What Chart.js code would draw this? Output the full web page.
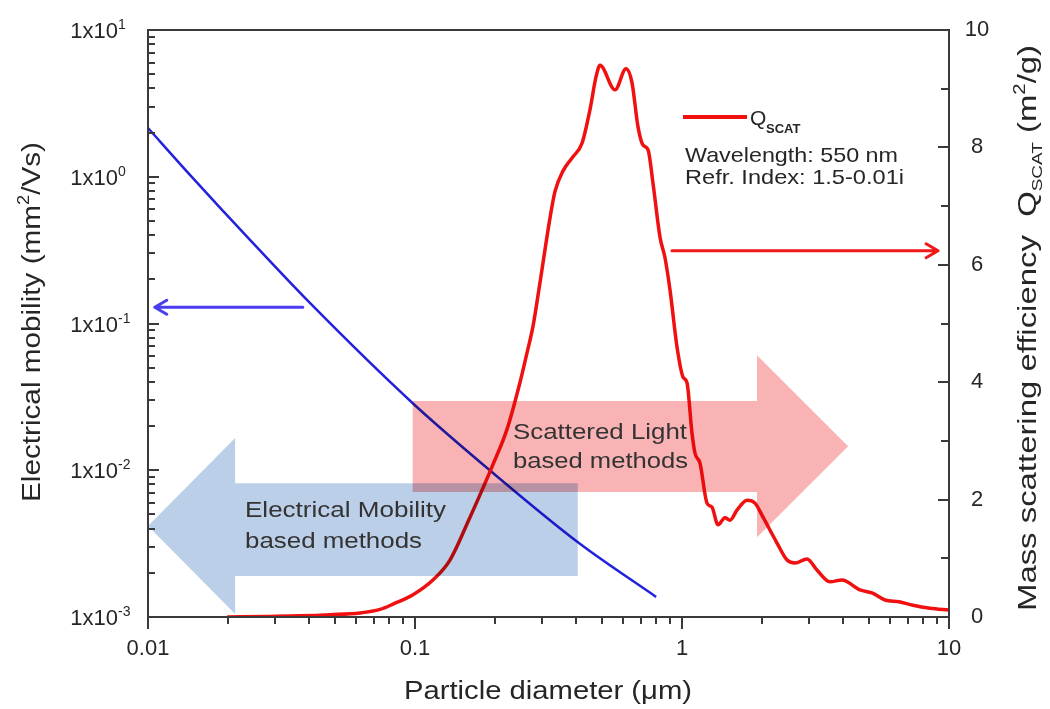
<!DOCTYPE html>
<html lang="en">
<head>
  <meta charset="UTF-8" />
  <title>Electrical mobility and mass scattering efficiency vs particle diameter</title>
  <script src="https://cdn.jsdelivr.net/npm/chart.js"></script>
  <style>
    html, body {
      margin: 0;
      padding: 0;
      background: #fff;
    }
    .chart-box {
      position: relative;
      width: 1050px;
      height: 709px;
    }
  </style>
</head>
<body>
  <div class="chart-box"><canvas id="chart"></canvas></div>

  <script>
    // Electrical mobility (mm2/Vs) vs particle diameter (um)
    const mobilityDiameter = [0.01, 0.0145, 0.0241, 0.0404, 0.0983, 0.196, 0.411, 0.80];
    const mobilityValue = [2.15, 1.01, 0.371, 0.138, 0.0285, 0.00957, 0.00319, 0.00137];

    // Mass scattering efficiency Q_SCAT (m2/g), 550 nm, m = 1.5-0.01i
    const scatDiameter = [
      0.0198, 0.0286, 0.0371, 0.0481, 0.0622, 0.074, 0.0828, 0.0983, 0.1167, 0.1352,
      0.1607, 0.1798, 0.196, 0.2212, 0.2474, 0.2627, 0.2766, 0.2939, 0.3204, 0.3345,
      0.3584, 0.3906, 0.4221, 0.4521, 0.4763, 0.493, 0.5613, 0.6171, 0.6498, 0.6843,
      0.7144, 0.746, 0.7787, 0.8272, 0.8636, 0.9018, 0.9579, 1.0086, 1.044, 1.0902,
      1.1186, 1.1679, 1.2406, 1.2954, 1.3641, 1.4488, 1.5127, 1.6069, 1.7517, 1.877,
      2.0111, 2.2691, 2.4739, 2.6497, 2.9389, 3.2032, 3.5843, 3.9754, 4.6416, 5.1475,
      5.7563, 6.4974, 7.3314, 8.4889, 10
    ];
    const scatValue = [
      0.0, 0.01, 0.02, 0.04, 0.07, 0.13, 0.22, 0.38, 0.63, 0.97,
      1.70, 2.2, 2.6, 3.2, 4.0, 4.5, 4.95, 5.7, 6.8, 7.25,
      7.6, 7.84, 8.07, 8.64, 9.2, 9.4, 8.98, 9.34, 9.1, 8.35,
      8.04, 7.96, 7.39, 6.47, 6.12, 5.57, 4.6, 4.09, 3.99, 3.13,
      2.79, 2.62, 1.94, 1.87, 1.57, 1.69, 1.65, 1.82, 1.99, 1.94,
      1.70, 1.26, 0.97, 0.92, 0.99, 0.80, 0.60, 0.63, 0.46, 0.41,
      0.29, 0.26, 0.20, 0.15, 0.12
    ];

    const diameterTicks = [0.01, 0.1, 1, 10];
    const diameterTickLabels = ['0.01', '0.1', '1', '10'];
    const mobilityTicks = [0.001, 0.01, 0.1, 1, 10];
    const mobilityExponents = ['-3', '-2', '-1', '0', '1'];
    const scatTicks = [0, 2, 4, 6, 8, 10];

    // pointer arrows: diameter span and level on the axis they point to
    const mobilityPointer = { from: 0.038, to: 0.0106, level: 0.129 };
    const scatPointer = { from: 0.917, to: 9.1, level: 6.24 };

    // method ranges as block arrows, diameter / Q_SCAT units
    const lightBlock = { start: 0.098, neck: 1.91, tip: 4.19, top: 3.68, bottom: 2.13, headTop: 4.46, headBottom: 1.36 };
    const mobilityBlock = { start: 0.407, neck: 0.0212, tip: 0.01, top: 2.28, bottom: 0.70, headTop: 3.05, headBottom: 0.05 };

    const FONT = 'Arial, "Liberation Sans", Helvetica, sans-serif';
    const INK = '#262626';
    const font = (size, weight) => `${weight || 'normal'} ${size}px ${FONT}`;

    // text made of runs [text, size, dy, weight], centred on (cx, cy), stretched to length
    function richText(ctx, runs, cx, cy, length, angle) {
      let total = 0;
      const widths = runs.map(([t, size, dy, weight]) => {
        ctx.font = font(size, weight);
        const w = ctx.measureText(t).width;
        total += w;
        return w;
      });
      const base = runs[0][1] * 0.36;
      ctx.save();
      ctx.translate(cx, cy);
      ctx.rotate(angle || 0);
      ctx.scale(length ? length / total : 1, 1);
      ctx.textAlign = 'left';
      ctx.textBaseline = 'alphabetic';
      let pos = -total / 2;
      runs.forEach(([t, size, dy, weight], i) => {
        ctx.font = font(size, weight);
        ctx.fillText(t, pos, base + (dy || 0));
        pos += widths[i];
      });
      ctx.restore();
    }

    // left-aligned line of text stretched to width
    function textAt(ctx, t, x, baseline, size, width) {
      ctx.save();
      ctx.font = font(size);
      const w = ctx.measureText(t).width;
      ctx.translate(x, baseline);
      ctx.scale(width ? width / w : 1, 1);
      ctx.textAlign = 'left';
      ctx.textBaseline = 'alphabetic';
      ctx.fillText(t, 0, 0);
      ctx.restore();
    }

    function blockArrow(ctx, xs, ys, b, color) {
      const x0 = xs.getPixelForValue(b.start);
      const xn = xs.getPixelForValue(b.neck);
      const xt = xs.getPixelForValue(b.tip);
      const yt = ys.getPixelForValue(b.top);
      const yb = ys.getPixelForValue(b.bottom);
      const ht = ys.getPixelForValue(b.headTop);
      const hb = ys.getPixelForValue(b.headBottom);
      ctx.beginPath();
      ctx.moveTo(x0, yt);
      ctx.lineTo(xn, yt);
      ctx.lineTo(xn, ht);
      ctx.lineTo(xt, (ht + hb) / 2);
      ctx.lineTo(xn, hb);
      ctx.lineTo(xn, yb);
      ctx.lineTo(x0, yb);
      ctx.closePath();
      ctx.fillStyle = color;
      ctx.fill();
    }

    function pointer(ctx, xs, ys, p, color) {
      const x0 = xs.getPixelForValue(p.from);
      const x1 = xs.getPixelForValue(p.to);
      const py = ys.getPixelForValue(p.level);
      const dir = Math.sign(x1 - x0);
      ctx.save();
      ctx.strokeStyle = color;
      ctx.lineWidth = 3;
      ctx.lineCap = 'round';
      ctx.lineJoin = 'round';
      ctx.beginPath();
      ctx.moveTo(x0, py);
      ctx.lineTo(x1, py);
      ctx.moveTo(x1 - dir * 12, py - 7);
      ctx.lineTo(x1, py);
      ctx.lineTo(x1 - dir * 12, py + 7);
      ctx.stroke();
      ctx.restore();
    }

    function logSteps(min, max) {
      const out = [];
      for (let e = Math.round(Math.log10(min)); e < Math.round(Math.log10(max)); e++) {
        for (let k = 1; k < 10; k++) out.push({ v: k * Math.pow(10, e), major: k === 1 });
      }
      out.push({ v: max, major: true });
      return out;
    }

    const decorations = {
      id: 'decorations',
      afterDatasetsDraw(chart) {
        const { ctx, chartArea: a, scales: { x, y, y2 } } = chart;

        // shaded method ranges, multiplied over the curves
        ctx.save();
        ctx.globalCompositeOperation = 'multiply';
        blockArrow(ctx, x, y2, lightBlock, '#f9b3b4');
        blockArrow(ctx, x, y2, mobilityBlock, '#bccfe8');
        ctx.restore();

        ctx.save();
        ctx.fillStyle = '#333';
        textAt(ctx, 'Scattered Light', 513, 439, 22, 174);
        textAt(ctx, 'based methods', 513, 468, 22, 175);
        textAt(ctx, 'Electrical Mobility', 245, 517, 22, 201);
        textAt(ctx, 'based methods', 245, 548, 22, 177);
        ctx.restore();

        pointer(ctx, x, y, mobilityPointer, '#4a3df0');
        pointer(ctx, x, y2, scatPointer, '#f01818');

        // legend block
        ctx.save();
        ctx.strokeStyle = '#f01010';
        ctx.lineWidth = 4;
        ctx.beginPath();
        ctx.moveTo(683, 117);
        ctx.lineTo(747, 117);
        ctx.stroke();
        ctx.fillStyle = INK;
        textAt(ctx, 'Q', 750, 125, 21);
        ctx.font = font(13, 'bold');
        ctx.fillText('SCAT', 766, 133);
        textAt(ctx, 'Wavelength: 550 nm', 685, 162, 21, 213);
        textAt(ctx, 'Refr. Index: 1.5-0.01i', 685, 184, 21, 219);
        ctx.restore();

        // frame and ticks
        ctx.save();
        ctx.strokeStyle = '#3a3a3a';
        ctx.lineWidth = 2;
        ctx.strokeRect(a.left, a.top, a.right - a.left, a.bottom - a.top);
        ctx.beginPath();
        logSteps(0.01, 10).forEach(t => {
          const px = Math.round(x.getPixelForValue(t.v));
          ctx.moveTo(px, a.bottom);
          ctx.lineTo(px, a.bottom + (t.major ? 12 : 7));
        });
        logSteps(0.001, 10).forEach(t => {
          const py = Math.round(y.getPixelForValue(t.v));
          ctx.moveTo(a.left, py);
          ctx.lineTo(a.left + (t.major ? 11 : 7), py);
        });
        for (let q = 0; q <= 10; q++) {
          const py = Math.round(y2.getPixelForValue(q));
          ctx.moveTo(a.right, py);
          ctx.lineTo(a.right - (q % 2 === 0 ? 11 : 8), py);
        }
        ctx.stroke();
        ctx.restore();

        // tick labels
        ctx.save();
        ctx.fillStyle = INK;
        ctx.font = font(22);
        ctx.textAlign = 'center';
        ctx.textBaseline = 'middle';
        diameterTicks.forEach((v, i) => {
          ctx.fillText(diameterTickLabels[i], x.getPixelForValue(v), a.bottom + 32);
        });
        scatTicks.forEach(v => {
          ctx.fillText(String(v), a.right + 28, y2.getPixelForValue(v));
        });
        ctx.textBaseline = 'alphabetic';
        mobilityTicks.forEach((v, i) => {
          const py = y.getPixelForValue(v);
          ctx.textAlign = 'right';
          ctx.font = font(22);
          ctx.fillText('1x10', a.left - 30, py + 8);
          ctx.textAlign = 'left';
          ctx.font = font(14);
          ctx.fillText(mobilityExponents[i], a.left - 30, py - 1);
        });
        ctx.restore();

        // axis titles
        ctx.save();
        ctx.fillStyle = INK;
        richText(ctx, [['Particle diameter (\u03bcm)', 26]], 548, 690, 288, 0);
        richText(ctx, [['Electrical mobility (mm', 26], ['2', 16, -11], ['/Vs)', 26]],
          31, 322, 360, -Math.PI / 2);
        richText(ctx, [['Mass scattering efficiency  Q', 26], ['SCAT', 15, 6], [' (m', 26], ['2', 16, -11], ['/g)', 26]],
          1027, 328, 566, -Math.PI / 2);
        ctx.restore();
      }
    };

    const hiddenAxis = {
      ticks: { display: false },
      grid: { display: false },
      border: { display: false }
    };

    new Chart(document.getElementById('chart'), {
      type: 'line',
      data: {
        datasets: [{
          label: 'Q_SCAT',
          data: scatDiameter.map((d, i) => ({ x: d, y: scatValue[i] })),
          yAxisID: 'y2',
          borderColor: '#f01010',
          borderWidth: 3.5,
          pointRadius: 0,
          cubicInterpolationMode: 'monotone',
          fill: false
        }, {
          label: 'Electrical mobility',
          data: mobilityDiameter.map((d, i) => ({ x: d, y: mobilityValue[i] })),
          yAxisID: 'y',
          borderColor: '#2222dd',
          borderWidth: 2.5,
          pointRadius: 0,
          cubicInterpolationMode: 'monotone',
          fill: false
        }]
      },
      options: {
        responsive: true,
        maintainAspectRatio: false,
        animation: false,
        layout: { padding: { top: 30 } },
        plugins: { legend: { display: false }, tooltip: { enabled: false } },
        scales: {
          x: { type: 'logarithmic', position: 'bottom', min: 0.01, max: 10, ...hiddenAxis,
               afterFit: s => { s.height = 92; } },
          y: { type: 'logarithmic', position: 'left', min: 0.001, max: 10, ...hiddenAxis,
               afterFit: s => { s.width = 148; } },
          y2: { type: 'linear', position: 'right', min: 0, max: 10, ...hiddenAxis,
                afterFit: s => { s.width = 101; } }
        }
      },
      plugins: [decorations]
    });
  </script>
</body>
</html>
